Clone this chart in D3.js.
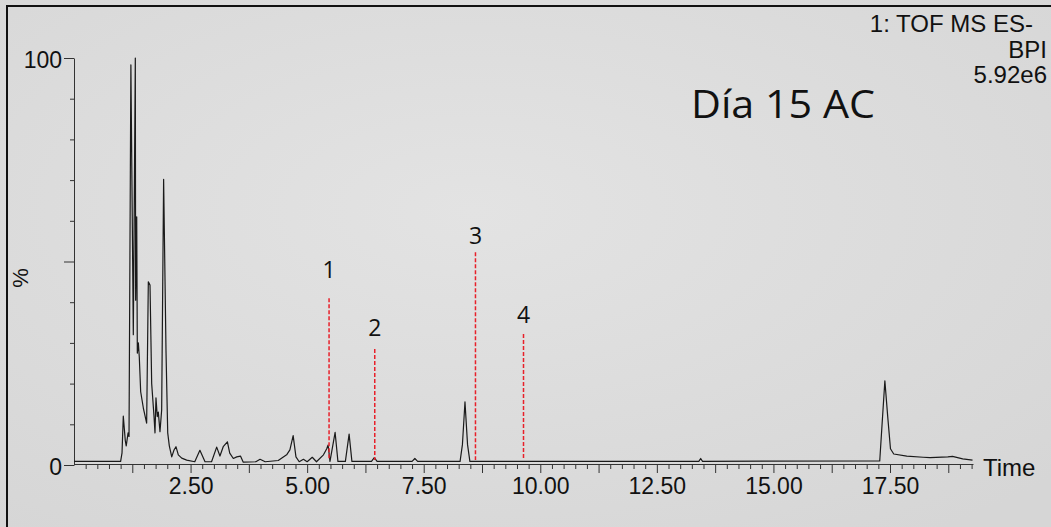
<!DOCTYPE html>
<html>
<head>
<meta charset="utf-8">
<script src="https://cdn.jsdelivr.net/npm/d3@7"></script>
<style>
  html, body { margin: 0; padding: 0; background: #dcdcdc; }
  svg { display: block; }
  .tick text { font-family: "Liberation Sans", Arial, sans-serif; }
</style>
</head>
<body>
<div id="chart"></div>
<script>
(function(){

// retention time (min) and base peak intensity (%)
var times = [0.00, 1.00, 1.03, 1.057, 1.10, 1.12, 1.16, 1.18, 1.22, 1.272, 1.315, 1.322, 1.345, 1.358,
	1.38, 1.40, 1.43, 1.487, 1.558, 1.594, 1.63, 1.666, 1.716, 1.737, 1.758, 1.786, 1.808, 1.844,
	1.88, 1.922, 1.973, 2.01, 2.044, 2.096, 2.145, 2.187, 2.237, 2.31, 2.417, 2.59, 2.70, 2.81,
	2.95, 3.06, 3.13, 3.20, 3.29, 3.34, 3.417, 3.49, 3.57, 3.63, 3.90, 3.99, 4.10, 4.38, 4.56,
	4.63, 4.70, 4.76, 4.83, 4.92, 5.00, 5.11, 5.20, 5.35, 5.42, 5.45, 5.49, 5.60, 5.66, 5.82,
	5.90, 5.96, 6.38, 6.44, 6.50, 7.25, 7.31, 7.37, 8.28, 8.33, 8.385, 8.44, 8.49, 13.40, 13.44,
	13.48, 17.28, 17.33, 17.39, 17.45, 17.51, 17.58, 17.86, 18.21, 18.36, 18.74, 18.84, 19.06, 19.27];
var intensity = [0.9, 0.9, 3, 12, 6, 4.7, 7.9, 7, 98.3, 32, 100, 40.5, 61, 27.5,
	30, 26.6, 18, 14, 10.3, 45, 44.2, 20, 11.9, 7.9, 16.5, 11.9, 13, 8.2,
	13.5, 70.2, 28, 7.9, 4.7, 2, 3.7, 4.5, 2.5, 1.7, 1.2, 0.8, 3.6, 0.8,
	0.8, 4.4, 2.2, 4.5, 5.7, 2.9, 1.6, 2, 2.2, 0.7, 0.8, 1.4, 0.8, 1.1, 2.5,
	3.7, 7.2, 2, 0.8, 1.4, 0.8, 1.9, 0.8, 2.5, 4, 4.9, 0.9, 8, 0.9, 0.9,
	7.6, 0.9, 0.9, 1.8, 0.9, 0.9, 1.6, 0.9, 0.9, 5, 15.5, 5, 0.9, 0.9, 1.6,
	0.9, 1.0, 10, 20.7, 12, 4, 2.7, 2.2, 1.9, 1.8, 2.0, 2.1, 1.5, 1.2];

// numbered compound markers (red dashed lines), heights in %
var markerLabels = ['1', '2', '3', '4'];
var markerTimes  = [5.47, 6.45, 8.61, 9.64];
var markerTops   = [41, 28.5, 52.3, 32.2];
var markerLabelLevels = [45.9, 31.7, 54.3, 34.9];

var headerLines = ['1: TOF MS ES-', 'BPI', '5.92e6'];
var sampleTitle = 'Día 15 AC';

var width = 1051;
var height = 527;

var svg = d3.select('#chart').append('svg')
	.attr('width', width)
	.attr('height', height);

// soft grey slide background
var defs = svg.append('defs');
var grad = defs.append('radialGradient')
	.attr('id', 'bg')
	.attr('cx', '45%').attr('cy', '40%').attr('r', '75%');
grad.append('stop').attr('offset', '0%').attr('stop-color', '#e3e3e3');
grad.append('stop').attr('offset', '100%').attr('stop-color', '#d6d6d6');

svg.append('rect')
	.attr('width', width)
	.attr('height', height)
	.attr('fill', 'url(#bg)');

// frame
svg.append('path')
	.attr('d', 'M7,' + height + 'V6H' + width)
	.attr('fill', 'none')
	.attr('stroke', '#111')
	.attr('stroke-width', 2);

var x = d3.scaleLinear().domain([0, 19.28]).range([74, 973]);
var y = d3.scaleLinear().domain([0, 100]).range([465, 58]);

// x axis
var xTicks = d3.range(1, 78).map(function(i) { return i * 0.25; });
var xAxis = svg.append('g')
	.attr('transform', 'translate(0,464)')
	.call(d3.axisBottom(x)
		.tickValues(xTicks)
		.tickSize(4)
		.tickSizeOuter(0)
		.tickPadding(10)
		.tickFormat(function(d) {
			return (Math.abs(d / 2.5 - Math.round(d / 2.5)) < 1e-6) ? d.toFixed(2) : '';
		}));
xAxis.select('.domain').attr('stroke', '#333');
xAxis.selectAll('.tick line')
	.attr('stroke', '#333')
	.attr('y2', function(d) {
		return (Math.abs(d / 1.25 - Math.round(d / 1.25)) < 1e-6) ? 9 : 5;
	});
xAxis.selectAll('.tick text')
	.attr('fill', '#111')
	.style('font-size', '23px');

// y axis
var yAxis = svg.append('g')
	.attr('transform', 'translate(74,0)')
	.call(d3.axisLeft(y)
		.tickValues(d3.range(0, 101, 10))
		.tickSize(4)
		.tickSizeOuter(0)
		.tickPadding(4)
		.tickFormat(function(d) { return (d === 0 || d === 100) ? d : ''; }));
yAxis.select('.domain').attr('stroke', '#333');
yAxis.selectAll('.tick line')
	.attr('stroke', '#333')
	.attr('x2', function(d) { return (d % 50 === 0) ? -10 : -4; });
yAxis.selectAll('.tick text')
	.attr('fill', '#111')
	.attr('x', -12)
	.attr('dy', '0.4em')
	.style('font-size', '23px');

svg.append('text')
	.attr('transform', 'translate(28,278) rotate(-90)')
	.attr('text-anchor', 'middle')
	.style('font-family', '"Liberation Sans", Arial, sans-serif')
	.style('font-size', '22px')
	.attr('fill', '#111')
	.text('%');

svg.append('text')
	.attr('x', 983)
	.attr('y', 476)
	.style('font-family', '"Liberation Sans", Arial, sans-serif')
	.style('font-size', '24px')
	.attr('fill', '#111')
	.text('Time');

// chromatogram trace
var pts = times.map(function(t, i) { return [t, intensity[i]]; });
var line = d3.line()
	.x(function(d) { return x(d[0]); })
	.y(function(d) { return y(d[1]); });

svg.append('path')
	.datum(pts)
	.attr('d', line)
	.attr('fill', 'none')
	.attr('stroke', '#1a1a1a')
	.attr('stroke-width', 1.2)
	.attr('stroke-linejoin', 'round');

// markers
var markers = markerLabels.map(function(l, i) {
	return {label: l, t: markerTimes[i], top: markerTops[i], lab: markerLabelLevels[i]};
});

var mk = svg.selectAll('g.marker').data(markers).enter()
	.append('g')
	.attr('class', 'marker');

mk.append('line')
	.attr('x1', function(d) { return x(d.t); })
	.attr('x2', function(d) { return x(d.t); })
	.attr('y1', function(d) { return y(d.top); })
	.attr('y2', y(1.2))
	.attr('stroke', '#e8202a')
	.attr('stroke-width', 1.5)
	.attr('stroke-dasharray', '4,2');

mk.append('text')
	.attr('x', function(d) { return x(d.t); })
	.attr('y', function(d) { return y(d.lab); })
	.attr('text-anchor', 'middle')
	.style('font-family', '"Open Sans", "Noto Sans", sans-serif')
	.style('font-size', '23px')
	.attr('fill', '#111')
	.text(function(d) { return d.label; });

// header, top right
svg.selectAll('text.header').data(headerLines).enter()
	.append('text')
	.attr('class', 'header')
	.attr('x', function(d, i) { return i === 0 ? 1033 : 1047; })
	.attr('y', function(d, i) { return 32 + i * 25.5; })
	.attr('text-anchor', 'end')
	.style('font-family', '"Liberation Sans", Arial, sans-serif')
	.style('font-size', '24px')
	.attr('fill', '#111')
	.text(function(d) { return d; });

svg.append('text')
	.attr('x', 691)
	.attr('y', 118)
	.attr('textLength', 184)
	.attr('lengthAdjust', 'spacingAndGlyphs')
	.style('font-family', '"Open Sans", "Noto Sans", sans-serif')
	.style('font-size', '39px')
	.attr('fill', '#111')
	.text(sampleTitle);

})();
</script>
</body>
</html>
